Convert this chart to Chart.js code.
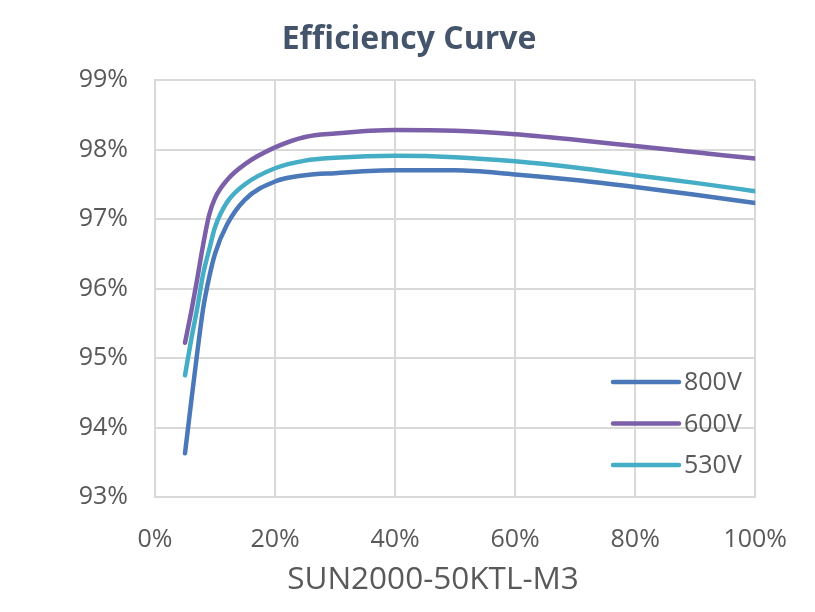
<!DOCTYPE html>
<html>
<head>
<meta charset="utf-8">
<script src="https://cdn.jsdelivr.net/npm/chart.js@4/dist/chart.umd.min.js"></script>
<style>
  html, body { margin:0; padding:0; background:#fff; }
  #wrap { width:815px; height:612px; }
</style>
</head>
<body>
<div id="wrap"><canvas id="chart" width="815" height="612"></canvas></div>
<script>
// ===== data =====
const loadPct = [5, 6, 7, 8, 9, 10, 12, 15, 20, 25, 30, 40, 50, 60, 70, 80, 90, 100];
const eff800 = [93.63, 94.35, 95.05, 95.7, 96.15, 96.5, 96.92, 97.28, 97.54, 97.63, 97.66, 97.70, 97.70, 97.64, 97.56, 97.46, 97.35, 97.23];
const eff600 = [95.22, 95.65, 96.12, 96.62, 97.05, 97.3, 97.56, 97.79, 98.03, 98.18, 98.23, 98.28, 98.27, 98.22, 98.14, 98.05, 97.96, 97.87];
const eff530 = [94.75, 95.25, 95.7, 96.2, 96.55, 96.88, 97.24, 97.5, 97.73, 97.84, 97.88, 97.91, 97.89, 97.83, 97.74, 97.63, 97.52, 97.40];
const seriesNames = ["800V", "600V", "530V"];
const seriesColors = ["#4a78b9", "#7b5fa8", "#45adc6"];
const chartTitle = "Efficiency Curve";
const xAxisTitle = "SUN2000-50KTL-M3";

const FONT = "'Open Sans', 'Noto Sans', sans-serif";
const TEXT = "#595959";

function pts(ys){ return loadPct.map((x, i) => ({x: x, y: ys[i]})); }

// title, x caption and in-plot legend
const decor = {
  id: 'decor',
  afterDraw(chart){
    const c = chart.ctx;
    c.save();
    c.fillStyle = "#44546a";
    c.font = "bold 32px " + FONT;
    c.textAlign = "center";
    c.textBaseline = "middle";
    c.fillText(chartTitle, 409, 40);

    c.fillStyle = TEXT;
    c.font = "31.5px " + FONT;
    c.fillText(xAxisTitle, 433, 580);

    // legend
    c.font = "25px " + FONT;
    c.textAlign = "left";
    chart.data.datasets.forEach((ds, i) => {
      const y = 382 + i * 41.5;
      c.strokeStyle = ds.borderColor;
      c.lineWidth = 4.5;
      c.lineCap = "round";
      c.beginPath();
      c.moveTo(613, y);
      c.lineTo(679, y);
      c.stroke();
      c.fillStyle = TEXT;
      c.fillText(ds.label, 684, y + 1);
    });
    c.restore();
  }
};

const mk = (i, ys) => ({
  label: seriesNames[i], data: pts(ys),
  borderColor: seriesColors[i], backgroundColor: seriesColors[i],
  borderWidth: 4.5, pointRadius: 0, cubicInterpolationMode: 'monotone',
  borderCapStyle: 'round', borderJoinStyle: 'round'
});

new Chart(document.getElementById('chart').getContext('2d'), {
  type: 'line',
  data: { datasets: [mk(0, eff800), mk(1, eff600), mk(2, eff530)] },
  plugins: [decor],
  options: {
    responsive: false, animation: false,
    layout: { padding: { top: 80, right: 57, bottom: 0, left: 0 } },
    plugins: { legend: { display: false }, title: { display: false }, tooltip: { enabled: false } },
    scales: {
      x: {
        type: 'linear', min: 0, max: 100,
        afterFit: s => { s.height = 115; },
        grid: { color: "#d9d9d9", lineWidth: 2, drawTicks: false },
        border: { color: "#d9d9d9", width: 2 },
        ticks: { stepSize: 20, padding: 28, color: TEXT, font: { size: 25, family: FONT }, callback: v => v + '%' }
      },
      y: {
        min: 93, max: 99,
        afterFit: s => { s.width = 155; },
        grid: { color: "#d9d9d9", lineWidth: 2, drawTicks: false },
        border: { color: "#d9d9d9", width: 2 },
        ticks: { stepSize: 1, padding: 27, color: TEXT, font: { size: 25, family: FONT }, callback: v => v + '%' }
      }
    }
  }
});
</script>
</body>
</html>
